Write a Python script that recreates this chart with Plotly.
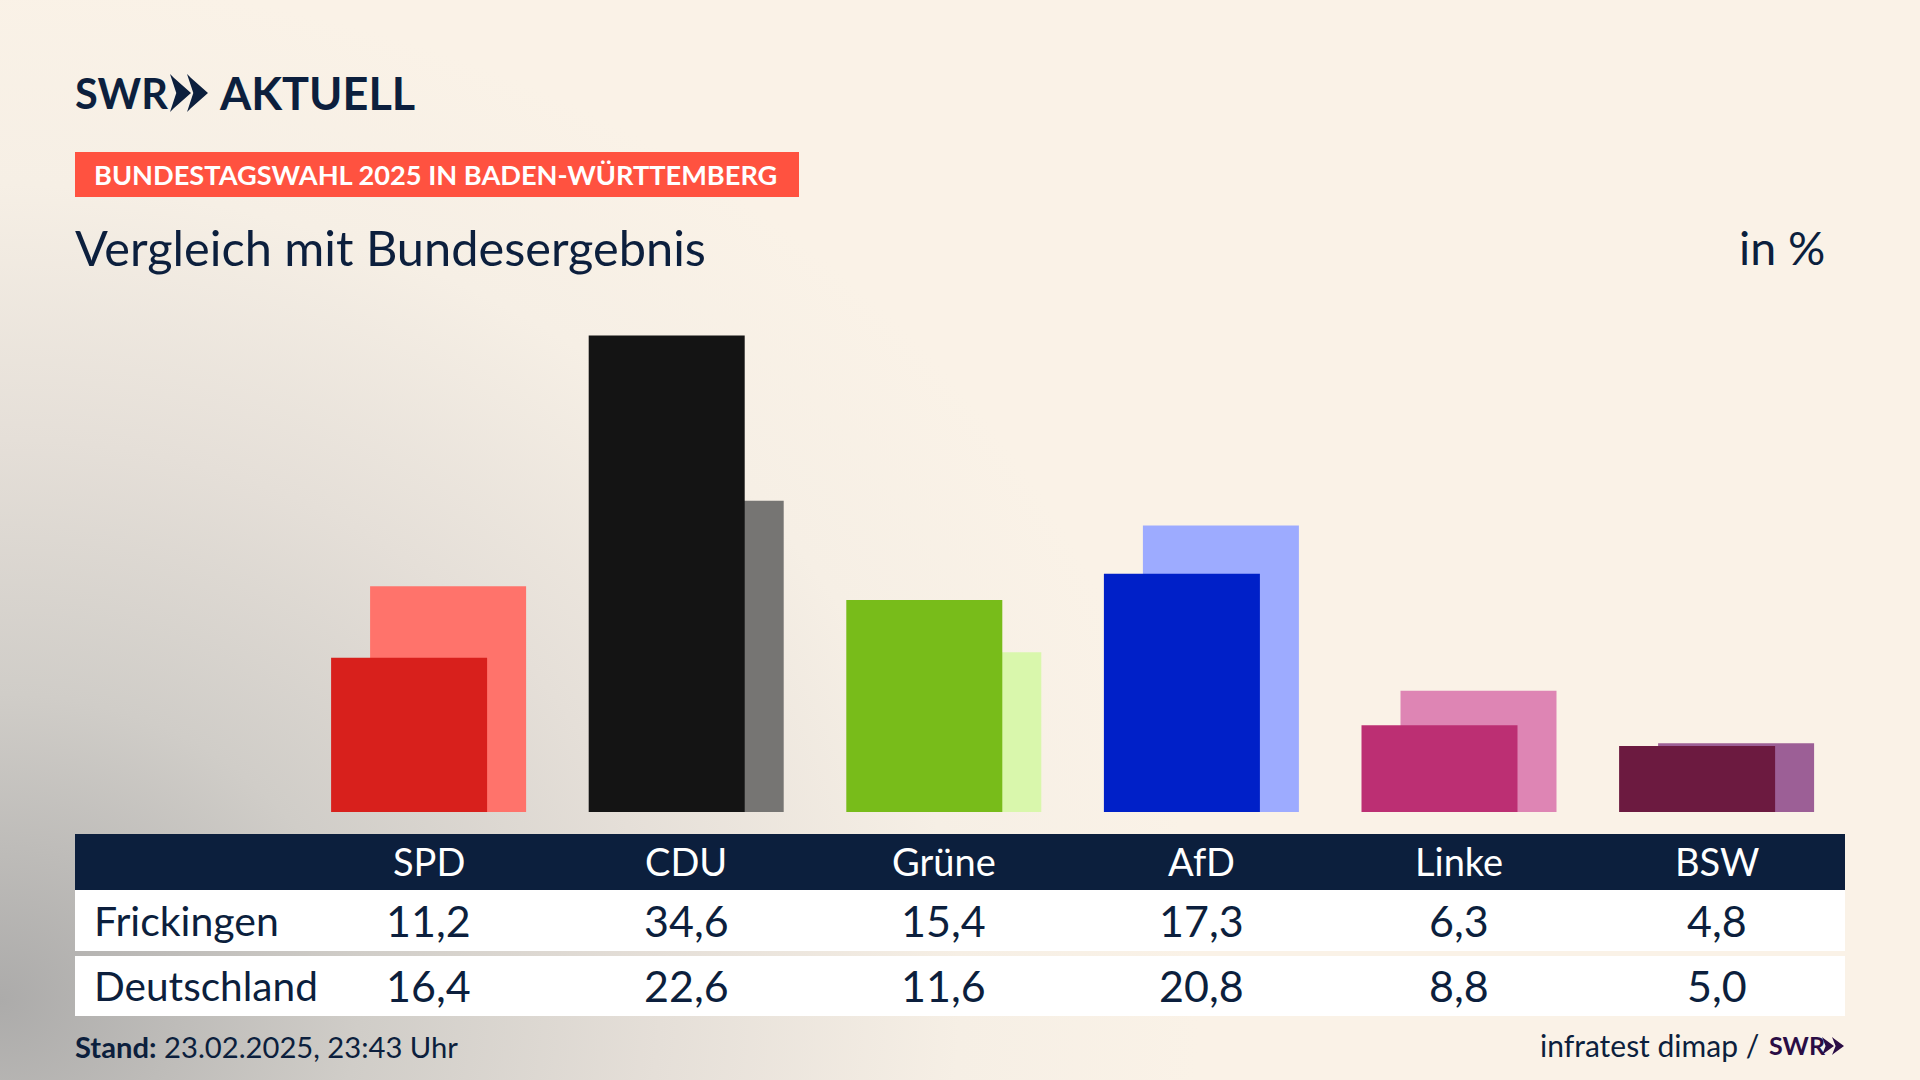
import base64
import plotly.graph_objects as go

W, H = 1920, 1080

parties = ["SPD", "CDU", "Grüne", "AfD", "Linke", "BSW"]
frickingen = [11.2, 34.6, 15.4, 17.3, 6.3, 4.8]
deutschland = [16.4, 22.6, 11.6, 20.8, 8.8, 5.0]
frickingen_labels = ["11,2", "34,6", "15,4", "17,3", "6,3", "4,8"]
deutschland_labels = ["16,4", "22,6", "11,6", "20,8", "8,8", "5,0"]
front_colors = ["#D8201C", "#141414", "#78BC1A", "#0020C8", "#BC2F73", "#6C1A40"]
back_colors = ["#FF736B", "#767573", "#D9F7AC", "#9DABFF", "#DE85B4", "#9C5F96"]

NAVY = "#0C1F3D"
FONT = "Lato"

# one category = 257.6 px, bars 156 px wide, shifted 39 px against each other
cat_w = 257.6
bar_w = 156 / cat_w
front_off = -(78 + 19.5) / cat_w
back_off = -(78 - 19.5) / cat_w


def px(x):
    return x / W


def py(y):
    return 1 - y / H


# background: grey glow from the lower left corner
svg = f"""<svg xmlns="http://www.w3.org/2000/svg" width="{W}" height="{H}">
<defs><radialGradient id="g" gradientUnits="userSpaceOnUse" cx="0" cy="0" r="1"
 gradientTransform="translate(0 1000) scale(1200 1020)">
<stop offset="0" stop-color="#ACABAA"/>
<stop offset="0.3" stop-color="#D0CDC8"/>
<stop offset="0.55" stop-color="#E5DFD8"/>
<stop offset="0.8" stop-color="#F6EFE5"/>
<stop offset="1" stop-color="#FAF2E7"/>
</radialGradient></defs>
<rect width="{W}" height="{H}" fill="#FAF2E7"/>
<rect width="{W}" height="{H}" fill="url(#g)"/>
</svg>"""
bg_src = "data:image/svg+xml;base64," + base64.b64encode(svg.encode()).decode()

fig = go.Figure()
fig.add_trace(go.Bar(x=parties, y=deutschland, name="Deutschland", width=bar_w, offset=back_off,
                     marker=dict(color=back_colors, line_width=0)))
fig.add_trace(go.Bar(x=parties, y=frickingen, name="Frickingen", width=bar_w, offset=front_off,
                     marker=dict(color=front_colors, line_width=0)))


def box(x0, y0, x1, y1, color):
    fig.add_shape(type="rect", xref="paper", yref="paper", x0=px(x0), x1=px(x1), y0=py(y0), y1=py(y1),
                  fillcolor=color, line_width=0, layer="below")


def chevrons(x, y, w, h, gap, color):
    # the two arrows of the logo
    d = ""
    for dx in (0, gap):
        pts = [(x + dx, y), (x + dx + w * 0.18, y + h * 0.1), (x + dx + w, y + h / 2),
               (x + dx + w * 0.18, y + h * 0.9), (x + dx, y + h), (x + dx + w * 0.3, y + h / 2)]
        d += "M" + " L".join(f"{px(a):.5f},{py(b):.5f}" for a, b in pts) + " Z "
    fig.add_shape(type="path", xref="paper", yref="paper", path=d, fillcolor=color, line_width=0)


def label(x, y, text, size, color=NAVY, anchor="left", xref="paper"):
    fig.add_annotation(x=px(x) if xref == "paper" else x, y=py(y), xref=xref, yref="paper", text=text,
                       showarrow=False, xanchor=anchor, yanchor="middle", borderpad=0, borderwidth=0,
                       font=dict(family=FONT, size=size, color=color))


box(75, 152, 799, 197, "#FF5240")
box(75, 834, 1845, 890, NAVY)
box(75, 890, 1845, 951, "white")
box(75, 956, 1845, 1016, "white")

label(75, 93, "<b>SWR</b>", 41.5)
chevrons(170, 74, 21, 38, 17, NAVY)
label(219, 93, "<b>AKTUELL</b>", 45)
label(94, 175, "<b>BUNDESTAGSWAHL 2025 IN BADEN-WÜRTTEMBERG</b>", 27.2, "white")
label(75, 247, "Vergleich mit Bundesergebnis", 48.7)
label(1825, 247, "in %", 46.5, anchor="right")

for i, p in enumerate(parties):
    label(p, 861, p, 38, "white", "center", "x")
    label(p, 920, frickingen_labels[i], 43, NAVY, "center", "x")
    label(p, 985, deutschland_labels[i], 43, NAVY, "center", "x")
label(94, 920, "Frickingen", 41)
label(94, 985, "Deutschland", 40.6)

label(75, 1046, "<b>Stand:</b> 23.02.2025, 23:43 Uhr", 29.2)
label(1759, 1045, "infratest dimap /", 30, anchor="right")
label(1769, 1045, "<b>SWR</b>", 25, "#2A0D45")
chevrons(1822, 1037, 12, 18, 10, "#2A0D45")

fig.update_layout(
    width=W, height=H, margin=dict(l=0, r=0, t=0, b=0), autosize=False,
    barmode="overlay", showlegend=False,
    paper_bgcolor="#FAF2E7", plot_bgcolor="rgba(0,0,0,0)",
    font=dict(family=FONT, color=NAVY),
    images=[dict(source=bg_src, xref="paper", yref="paper", x=0, y=1, sizex=1, sizey=1,
                 sizing="stretch", xanchor="left", yanchor="top", layer="below")],
    xaxis=dict(domain=[px(428.6 - cat_w / 2), px(428.6 + 5.5 * cat_w)], range=[-0.5, 5.5], visible=False,
               categoryorder="array", categoryarray=parties),
    yaxis=dict(domain=[py(812), 1], range=[0, 812 / 13.77], visible=False),
)

fig.write_html("out.html", config=dict(displayModeBar=False),
               post_script="document.body.style.margin='0';")
